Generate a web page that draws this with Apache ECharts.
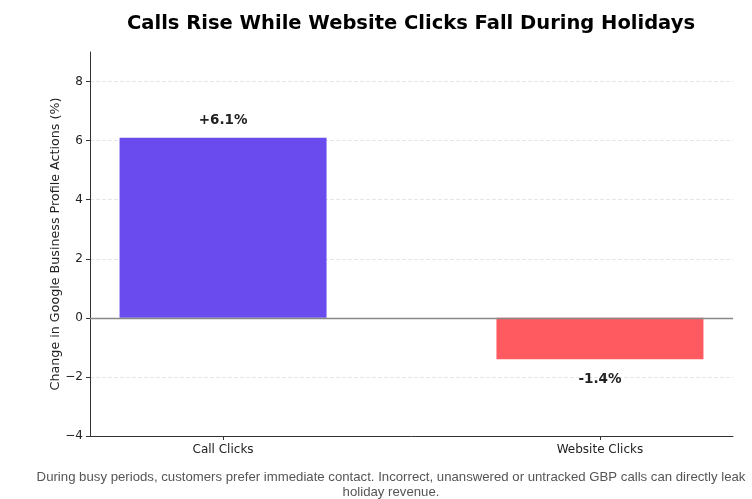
<!DOCTYPE html>
<html>
<head>
<meta charset="utf-8">
<script src="https://cdn.jsdelivr.net/npm/echarts@6/dist/echarts.min.js"></script>
<style>
  html, body { margin: 0; padding: 0; background: #fff; }
  #main { width: 752px; height: 499px; }
</style>
</head>
<body>
<div id="main"></div>
<script>
// 数据
var categories = ['Call Clicks', 'Website Clicks'];
var changeValues = [6.1, -1.4];
var barColors = ['#6A4BEE', '#FF5A5F'];
var yTicks = [-4, -2, 0, 2, 4, 6, 8];

var myChart = echarts.init(document.getElementById('main'));

var barData = changeValues.map(function (v, i) {
    return {
        value: [i, v],
        itemStyle: { color: barColors[i] },
        label: { position: v >= 0 ? 'top' : 'bottom', distance: v >= 0 ? 10 : 13 }
    };
});

var option = {
    animation: false,
    textStyle: { fontFamily: 'DejaVu Sans' },
    title: [{
        text: 'Calls Rise While Website Clicks Fall During Holidays',
        left: 406,
        top: 9,
        textAlign: 'center',
        textStyle: { fontSize: 19.5, fontWeight: 'bold', color: '#000', fontFamily: 'DejaVu Sans' }
    }, {
        text: 'During busy periods, customers prefer immediate contact. Incorrect, unanswered or untracked GBP calls can directly leak\nholiday revenue.',
        left: 386,
        top: 465,
        textAlign: 'center',
        textStyle: { fontSize: 13.2, fontWeight: 'normal', color: '#555', lineHeight: 15, fontFamily: 'Liberation Sans' }
    }],
    grid: { left: 90, right: 19, top: 52, bottom: 63 },
    xAxis: {
        type: 'value',
        min: -0.353,
        max: 1.353,
        splitLine: { show: false },
        axisLine: { show: true, onZero: false, lineStyle: { color: '#333', width: 1 } },
        axisTick: { show: true, customValues: [0, 1], length: 4, lineStyle: { color: '#333' } },
        axisLabel: {
            customValues: [0, 1],
            formatter: function (v) { return categories[Math.round(v)]; },
            color: '#222', fontSize: 12, margin: 8
        }
    },
    yAxis: {
        type: 'value',
        min: -4,
        max: 9,
        interval: 2,
        name: 'Change in Google Business Profile Actions (%)',
        nameLocation: 'middle',
        nameGap: 28,
        nameMoveOverlap: false,
        nameTextStyle: { fontSize: 12.7, color: '#222' },
        axisLine: { show: true, onZero: false, lineStyle: { color: '#333', width: 1 } },
        axisTick: { show: true, customValues: yTicks, length: 4, lineStyle: { color: '#333' } },
        axisLabel: {
            customValues: yTicks,
            formatter: function (v) { return v < 0 ? '\u2212' + Math.abs(v) : String(v); },
            color: '#222', fontSize: 12, margin: 7
        },
        splitLine: { show: true, lineStyle: { color: '#e6e6e6', type: 'dashed', width: 1 } }
    },
    series: [{
        type: 'bar',
        data: barData,
        barWidth: 207,
        label: {
            show: true,
            fontSize: 13.5,
            fontWeight: 'bold',
            color: '#222',
            formatter: function (p) {
                var v = p.value[1];
                return (v > 0 ? '+' : '') + v.toFixed(1) + '%';
            }
        },
        markLine: {
            silent: true,
            symbol: 'none',
            label: { show: false },
            lineStyle: { color: '#888', type: 'solid', width: 1.3 },
            data: [{ yAxis: 0 }]
        }
    }]
};

myChart.setOption(option);
</script>
</body>
</html>
